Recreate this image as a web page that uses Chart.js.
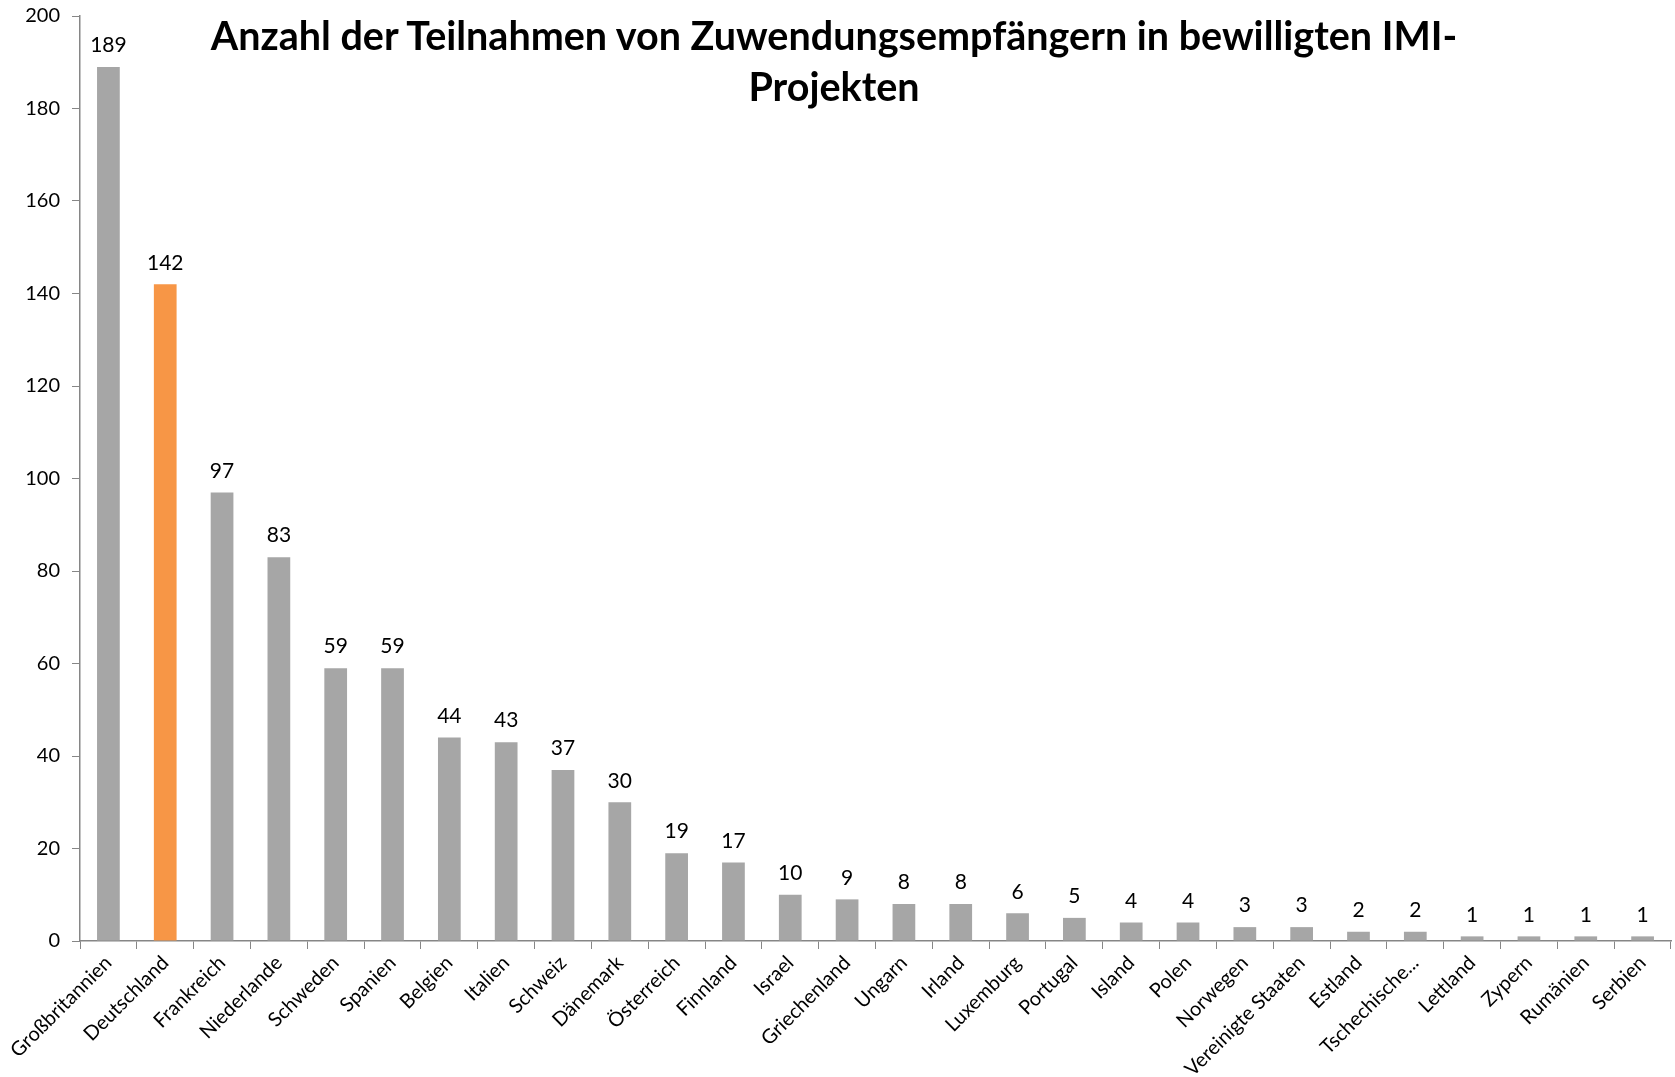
<!DOCTYPE html>
<html>
<head>
<meta charset="utf-8">
<script src="https://cdn.jsdelivr.net/npm/chart.js@4.4.0/dist/chart.umd.min.js"></script>
<style>
  body { margin: 0; background: #fff; }
  #wrap { position: relative; width: 1675px; height: 1077px; }
  #title {
    position: absolute; left: 0; top: 9px; width: 1668px;
    text-align: center; font-family: Lato, sans-serif; font-weight: bold;
    font-size: 39.5px; line-height: 51px; color: #000;
  }
</style>
</head>
<body>
<div id="wrap">
  <canvas id="chart" width="1675" height="1077"></canvas>
  <div id="title">Anzahl der Teilnahmen von Zuwendungsempfängern in bewilligten IMI-<br>Projekten</div>
</div>
<script>
// Data
const countries = ['Großbritannien', 'Deutschland', 'Frankreich', 'Niederlande', 'Schweden', 'Spanien',
  'Belgien', 'Italien', 'Schweiz', 'Dänemark', 'Österreich', 'Finnland', 'Israel', 'Griechenland',
  'Ungarn', 'Irland', 'Luxemburg', 'Portugal', 'Island', 'Polen', 'Norwegen', 'Vereinigte Staaten',
  'Estland', 'Tschechische...', 'Lettland', 'Zypern', 'Rumänien', 'Serbien'];
const participations = [189, 142, 97, 83, 59, 59, 44, 43, 37, 30, 19, 17, 10, 9, 8, 8, 6, 5, 4, 4, 3, 3, 2, 2, 1, 1, 1, 1];
const highlighted = 'Deutschland';
const yMin = 0, yMax = 200, yStep = 20;

const barColors = countries.map(c => c === highlighted ? '#F79646' : '#A6A6A6');
const axisColor = '#868686';
const tickFont = { family: 'Lato, sans-serif', size: 20 };
const valueFont = { family: 'Lato, sans-serif', size: 21 };

// draws the value above each bar
const valueLabels = {
  id: 'valueLabels',
  afterDatasetsDraw(chart) {
    const ctx = chart.ctx;
    const meta = chart.getDatasetMeta(0);
    ctx.save();
    ctx.font = valueFont.size + 'px ' + valueFont.family;
    ctx.fillStyle = '#000';
    ctx.textAlign = 'center';
    ctx.textBaseline = 'bottom';
    meta.data.forEach((bar, i) => {
      ctx.fillText(participations[i], bar.x, bar.y - 11);
    });
    ctx.restore();
  }
};

const ctx = document.getElementById('chart').getContext('2d');
const chart = new Chart(ctx, {
  type: 'bar',
  data: {
    labels: countries,
    datasets: [{
      data: participations,
      backgroundColor: barColors,
      categoryPercentage: 1,
      barPercentage: 0.4
    }]
  },
  options: {
    responsive: false,
    animation: false,
    layout: { padding: { top: 16, right: 4, left: 0, bottom: 0 } },
    plugins: {
      legend: { display: false },
      tooltip: { enabled: false },
      title: { display: false }
    },
    scales: {
      x: {
        grid: { drawOnChartArea: false, tickLength: 8, tickColor: axisColor, offset: true },
        border: { color: axisColor, width: 1.5 },
        ticks: { color: '#000', font: tickFont, minRotation: 45, maxRotation: 45, padding: 2, autoSkip: false },
        afterFit: scale => { scale.height = 136; }
      },
      y: {
        min: yMin,
        max: yMax,
        grid: { drawOnChartArea: false, tickLength: 8, tickColor: axisColor },
        border: { color: axisColor, width: 1.5 },
        ticks: { color: '#000', font: tickFont, stepSize: yStep, padding: 12 },
        afterFit: scale => {
          scale.width = 80;
          scale.paddingTop = 0;
          scale.paddingBottom = 0;
        }
      }
    }
  },
  plugins: [valueLabels]
});
</script>
</body>
</html>
